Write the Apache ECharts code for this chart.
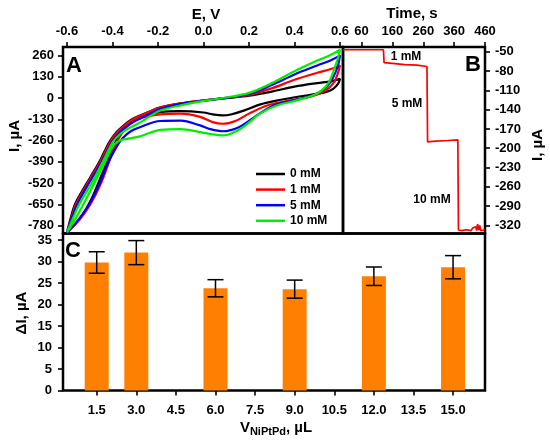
<!DOCTYPE html>
<html><head><meta charset="utf-8">
<script src="https://cdn.jsdelivr.net/npm/echarts@6/dist/echarts.min.js"></script>
<style>html,body{margin:0;padding:0;background:#fff}#c{width:550px;height:445px}</style>
</head><body><div id="c"></div>
<script>
// ---------- Panel A: cyclic voltammograms ----------
const cvLabels = ['0 mM', '1 mM', '5 mM', '10 mM'];
const cv0Upper = [[-0.6,-822],[-0.585,-740],[-0.565,-650],[-0.54,-585],[-0.513,-520],[-0.485,-455],[-0.458,-390],[-0.435,-325],[-0.411,-262],[-0.38,-205],[-0.345,-160],[-0.316,-130],[-0.279,-106],[-0.24,-84],[-0.19,-57],[-0.1,-32],[0,-15],[0.1,0],[0.2,15],[0.3,40],[0.4,70],[0.5,92],[0.56,103],[0.6,118]];
const cv0Lower = [[0.6,118],[0.59,85],[0.57,57],[0.54,38],[0.5,26],[0.42,10],[0.34,-10],[0.25,-38],[0.18,-75],[0.12,-100],[0.085,-106],[0.04,-100],[0,-88],[-0.1,-80],[-0.19,-86],[-0.28,-112],[-0.33,-155],[-0.36,-205],[-0.385,-262],[-0.41,-345],[-0.445,-460],[-0.49,-610],[-0.54,-730],[-0.6,-822]];
const cv1Upper = [[-0.6,-822],[-0.582,-740],[-0.561,-650],[-0.509,-520],[-0.454,-390],[-0.407,-262],[-0.376,-205],[-0.342,-162],[-0.313,-132],[-0.277,-108],[-0.24,-85],[-0.19,-58],[-0.1,-32],[0,-14],[0.1,2],[0.2,20],[0.3,60],[0.4,112],[0.5,155],[0.56,178],[0.6,200]];
const cv1Lower = [[0.6,200],[0.59,150],[0.575,100],[0.54,50],[0.47,8],[0.38,-14],[0.28,-45],[0.2,-95],[0.14,-140],[0.085,-157],[0.04,-147],[-0.015,-115],[-0.1,-95],[-0.19,-100],[-0.28,-125],[-0.33,-165],[-0.362,-222],[-0.388,-290],[-0.415,-390],[-0.45,-520],[-0.497,-650],[-0.545,-745],[-0.6,-822]];
const cv5Upper = [[-0.6,-825],[-0.58,-740],[-0.555,-650],[-0.503,-520],[-0.448,-390],[-0.4,-262],[-0.367,-207],[-0.33,-165],[-0.28,-126],[-0.24,-98],[-0.19,-66],[-0.1,-35],[0,-15],[0.1,2],[0.2,25],[0.3,80],[0.4,145],[0.5,200],[0.56,232],[0.6,262]];
const cv5Lower = [[0.6,262],[0.59,195],[0.57,128],[0.54,67],[0.48,16],[0.395,-14],[0.307,-45],[0.234,-106],[0.16,-175],[0.085,-203],[0.03,-190],[-0.015,-167],[-0.1,-138],[-0.19,-140],[-0.28,-178],[-0.31,-195],[-0.338,-222],[-0.365,-262],[-0.39,-318],[-0.418,-392],[-0.455,-520],[-0.502,-650],[-0.55,-745],[-0.6,-825]];
const cv10Upper = [[-0.6,-822],[-0.575,-740],[-0.546,-650],[-0.491,-520],[-0.443,-390],[-0.398,-268],[-0.365,-218],[-0.325,-182],[-0.28,-150],[-0.24,-115],[-0.19,-76],[-0.1,-44],[0,-17],[0.1,4],[0.2,32],[0.3,92],[0.4,165],[0.5,230],[0.56,265],[0.6,296]];
const cv10Lower = [[0.6,296],[0.59,240],[0.575,180],[0.55,95],[0.5,28],[0.41,-14],[0.322,-45],[0.248,-95],[0.175,-177],[0.12,-218],[0.085,-228],[0.04,-222],[-0.015,-208],[-0.1,-190],[-0.19,-195],[-0.28,-234],[-0.33,-248],[-0.365,-258],[-0.392,-282],[-0.412,-330],[-0.435,-395],[-0.48,-520],[-0.528,-650],[-0.565,-745],[-0.6,-822]];
const cvColors = ['#000000', '#ff0000', '#0000ff', '#00ee00'];
const eTicks = [-0.6,-0.4,-0.2,0,0.2,0.4,0.6];
const iTicksA = [260,130,0,-130,-260,-390,-520,-650,-780];

// ---------- Panel B: amperometric response ----------
const ampTime = [0,131,133,160,200,240,272,274,300,340,372,374,380,385,390,395,400,405,410,415,420,425,430,433,436,440,443,446,450,455,460];
const ampCurrent = [-47,-47,-67,-68,-70,-71,-73,-190,-189,-188,-187,-327,-325,-328,-326,-327,-325,-327,-326,-328,-324,-327,-322,-328,-318,-327,-320,-328,-326,-327,-326];
const timeTicks = [60,160,260,360,460];
const iTicksB = [-50,-80,-110,-140,-170,-200,-230,-260,-290,-320];
const stepLabels = ['1 mM', '5 mM', '10 mM'];

// ---------- Panel C: bar chart ----------
const volumes = [1.5, 3.0, 6.0, 9.0, 12.0, 15.0];
const deltaI = [29.8, 32.1, 23.8, 23.6, 26.6, 28.7];
const deltaErr = [2.5, 2.8, 2.0, 2.1, 2.15, 2.7];
const volTicks = [1.5,3.0,4.5,6.0,7.5,9.0,10.5,12.0,13.5,15.0];
const dTicks = [0,5,10,15,20,25,30,35];

const FF = '"Liberation Sans", Arial, sans-serif';
const lab = {fontFamily: FF, fontWeight: 'bold', fontSize: 13, color: '#000'};
const tick = {show: true, inside: false, length: 5, lineStyle: {color: '#000', width: 1.6}};
const noLine = {show: false, onZero: false};

const chart = echarts.init(document.getElementById('c'), null, {renderer: 'canvas'});
const cvUpp = [cv0Upper, cv1Upper, cv5Upper, cv10Upper];
const cvLow = [cv0Lower, cv1Lower, cv5Lower, cv10Lower];

const series = cvLabels.map((name, i) => ({
  name, type: 'line', xAxisIndex: 0, yAxisIndex: 0,
  data: cvUpp[i].concat(cvLow[i].slice(1)),
  smooth: 0.35, symbol: 'none', lineStyle: {color: cvColors[i], width: 2.2}, itemStyle: {color: cvColors[i]}
}));
series.push({
  type: 'line', xAxisIndex: 1, yAxisIndex: 1,
  data: ampTime.map((t, i) => [t, ampCurrent[i]]),
  symbol: 'none', lineStyle: {color: '#ff0000', width: 1.7}
});
series.push({
  type: 'bar', xAxisIndex: 2, yAxisIndex: 2,
  data: volumes.map((v, i) => [v, deltaI[i]]),
  barWidth: 24, itemStyle: {color: '#ff8000'}
});
series.push({
  type: 'custom', xAxisIndex: 2, yAxisIndex: 2, z: 10,
  data: volumes.map((v, i) => [v, deltaI[i], deltaErr[i]]),
  renderItem: function (params, api) {
    const x = api.value(0), y = api.value(1), e = api.value(2);
    const hi = api.coord([x, y + e]), lo = api.coord([x, y - e]);
    const w = 8, st = {stroke: '#000', lineWidth: 1.5};
    return {type: 'group', children: [
      {type: 'line', shape: {x1: hi[0], y1: hi[1], x2: lo[0], y2: lo[1]}, style: st},
      {type: 'line', shape: {x1: hi[0]-w, y1: hi[1], x2: hi[0]+w, y2: hi[1]}, style: st},
      {type: 'line', shape: {x1: lo[0]-w, y1: lo[1], x2: lo[0]+w, y2: lo[1]}, style: st}
    ]};
  }
});

const txt = (text, x, y, size, extra) => Object.assign({
  type: 'text', x, y, z: 100,
  style: {text, fontFamily: FF, fontWeight: 'bold', fontSize: size, fill: '#000', align: 'center', verticalAlign: 'middle'}
}, extra || {});

chart.setOption({
  animation: false,
  grid: [
    {left: 63, top: 47, width: 280, height: 186.5, show: true, borderColor: '#000', borderWidth: 2.5, backgroundColor: 'transparent'},
    {left: 343, top: 47, width: 142, height: 186.5, show: true, borderColor: '#000', borderWidth: 2.5, backgroundColor: 'transparent'},
    {left: 63, top: 233.5, width: 422, height: 157, show: true, borderColor: '#000', borderWidth: 2.5, backgroundColor: 'transparent'}
  ],
  xAxis: [
    {type: 'value', gridIndex: 0, position: 'top', min: -0.6176, max: 0.613,
     axisLine: noLine, splitLine: {show: false},
     axisTick: Object.assign({customValues: eTicks}, tick),
     axisLabel: Object.assign({customValues: eTicks, margin: 9, formatter: v => v.toFixed(1)}, lab)},
    {type: 'value', gridIndex: 1, position: 'top', min: 0, max: 460,
     axisLine: noLine, splitLine: {show: false},
     axisTick: Object.assign({customValues: timeTicks}, tick),
     axisLabel: Object.assign({customValues: timeTicks, margin: 9}, lab)},
    {type: 'value', gridIndex: 2, position: 'bottom', min: 0.223, max: 16.21,
     axisLine: noLine, splitLine: {show: false},
     axisTick: Object.assign({customValues: volTicks}, tick),
     axisLabel: Object.assign({customValues: volTicks, margin: 13, formatter: v => v.toFixed(1)}, lab)}
  ],
  yAxis: [
    {type: 'value', gridIndex: 0, position: 'left', min: -829, max: 313,
     axisLine: noLine, splitLine: {show: false},
     axisTick: Object.assign({customValues: iTicksA}, tick),
     axisLabel: Object.assign({customValues: iTicksA, margin: 9}, lab)},
    {type: 'value', gridIndex: 1, position: 'right', min: -332.5, max: -42.7,
     axisLine: noLine, splitLine: {show: false},
     axisTick: Object.assign({customValues: iTicksB}, tick),
     axisLabel: Object.assign({customValues: iTicksB, margin: 10}, lab)},
    {type: 'value', gridIndex: 2, position: 'left', min: 0, max: 36.55,
     axisLine: noLine, splitLine: {show: false},
     axisTick: Object.assign({customValues: dTicks}, tick),
     axisLabel: Object.assign({customValues: dTicks, margin: 11}, lab)}
  ],
  legend: {
    data: cvLabels, orient: 'vertical', left: 256, top: 168, padding: 0,
    icon: 'rect', itemWidth: 29, itemHeight: 2.5, itemGap: 3.6,
    textStyle: {fontFamily: FF, fontWeight: 'bold', fontSize: 12, color: '#000', lineHeight: 12}
  },
  series,
  graphic: [
    txt('E, V', 206, 15, 15),
    txt('Time, s', 412, 14, 15),
    txt('I, µA', 15, 136, 15, {rotation: Math.PI / 2}),
    txt('I, µA', 538, 145, 15, {rotation: Math.PI / 2}),
    txt('ΔI, µA', 22, 313, 15, {rotation: Math.PI / 2}),
    txt('A', 74, 66, 22),
    txt('B', 473, 65, 22),
    txt('C', 73, 251, 22),
    txt(stepLabels[0], 406, 57, 12),
    txt(stepLabels[1], 407, 104, 12),
    txt(stepLabels[2], 432, 200, 12),
    {type: 'text', x: 276, y: 428, z: 100,
     style: {text: '{a|V}{b|NiPtPd}{a|, µL}', align: 'center', verticalAlign: 'middle',
       rich: {a: {fontFamily: FF, fontWeight: 'bold', fontSize: 15, fill: '#000', color: '#000'},
              b: {fontFamily: FF, fontWeight: 'bold', fontSize: 11, fill: '#000', color: '#000', padding: [8, 0, 0, 0]}}}}
  ]
});
</script></body></html>
